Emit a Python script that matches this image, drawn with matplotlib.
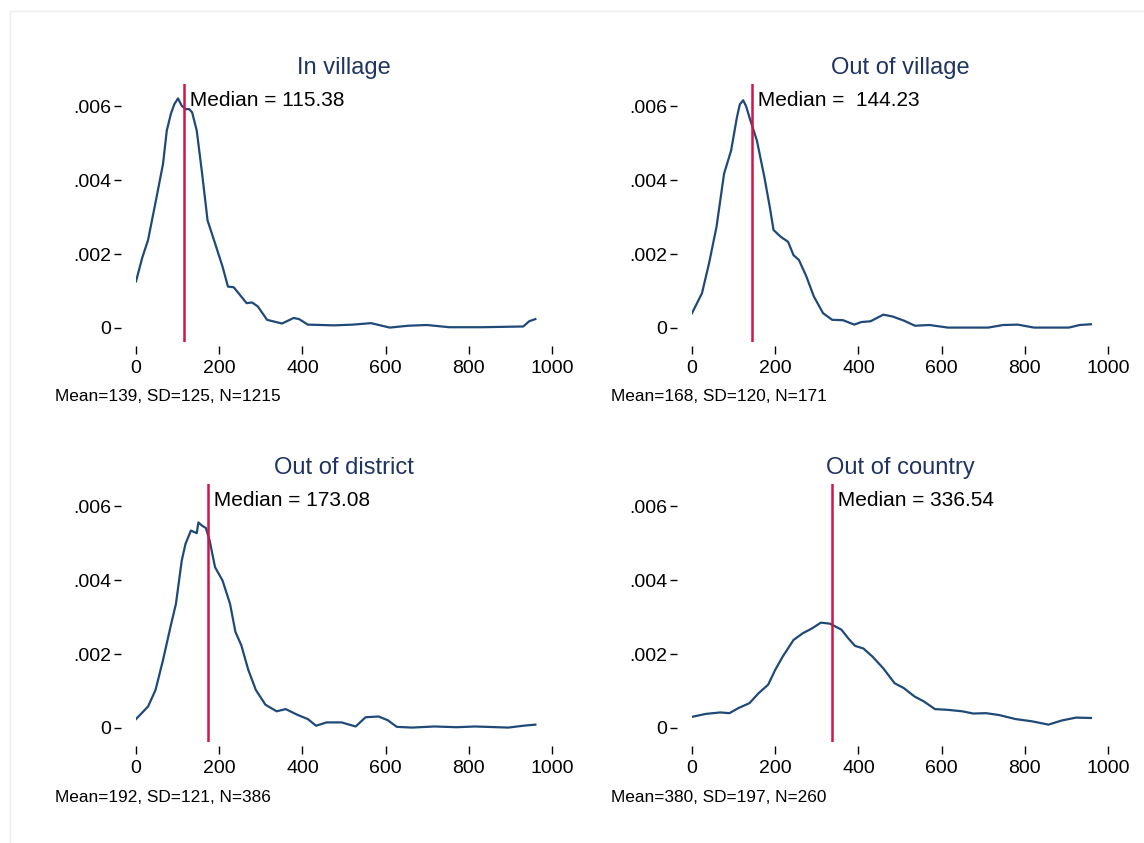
import numpy as np
import matplotlib.pyplot as plt
from matplotlib.lines import Line2D

plt.rcParams['font.family'] = ['Liberation Sans', 'DejaVu Sans']

titles = ['In village', 'Out of village', 'Out of district', 'Out of country']
medians = [115.38, 144.23, 173.08, 336.54]
median_labels = ['Median = 115.38', 'Median =  144.23', 'Median = 173.08', 'Median = 336.54']
notes = ['Mean=139, SD=125, N=1215', 'Mean=168, SD=120, N=171',
         'Mean=192, SD=121, N=386', 'Mean=380, SD=197, N=260']

# kernel density curves
x_vil = [0, 15, 29, 47, 65, 74, 84, 92, 101, 110, 119, 128, 135, 146, 159, 172, 190, 208, 221, 235, 253, 266,
         279, 293, 315, 351, 379, 392, 413, 476, 521, 565, 610, 654, 699, 753, 833, 931, 945, 960]
y_vil = [0.00126, 0.0019, 0.00238, 0.0034, 0.00444, 0.00534, 0.0058, 0.00605, 0.00621, 0.00601, 0.00592,
         0.00592, 0.00583, 0.00534, 0.00417, 0.00291, 0.00229, 0.00166, 0.00112, 0.0011, 0.00085,
         0.00067, 0.00069, 0.00058, 0.00022, 0.00012, 0.00027, 0.00024, 0.00009, 0.00007, 0.00009,
         0.00013, 0.00001, 0.00006, 0.00008, 0.00002, 0.00002, 0.00004, 0.00018, 0.00024]

x_outvil = [0, 24, 41, 59, 77, 94, 108, 115, 123, 130, 138, 156, 174, 187, 196, 213, 231, 244, 257, 275, 293,
            315, 337, 363, 390, 407, 429, 460, 482, 509, 536, 571, 615, 712, 748, 783, 822, 906, 932, 959]
y_outvil = [0.0004, 0.00094, 0.00175, 0.00274, 0.00417, 0.0048, 0.0057, 0.00605, 0.00616, 0.00600,
            0.0057, 0.00507, 0.00408, 0.00327, 0.00265, 0.00247, 0.00233, 0.00197, 0.00184, 0.00139,
            0.00085, 0.0004, 0.00022, 0.00021, 0.00009, 0.00016, 0.00018, 0.00036, 0.00031, 0.0002,
            0.00006, 0.00008, 0.00001, 0.00001, 0.00008, 0.00009, 0.00001, 0.00001, 0.00008, 0.0001]

x_dist = [0, 29, 47, 65, 83, 96, 110, 119, 132, 146, 150, 159, 168, 177, 190, 208, 226, 239, 253, 270,
          288, 311, 338, 360, 387, 413, 433, 458, 494, 528, 552, 583, 605, 627, 663, 717, 771, 815,
          895, 931, 960]
y_dist = [0.00024, 0.00058, 0.00103, 0.00184, 0.00274, 0.00336, 0.00453, 0.00498, 0.00534, 0.00527,
          0.00556, 0.00547, 0.00541, 0.00507, 0.00435, 0.00399, 0.00336, 0.0026, 0.00224, 0.00157,
          0.00103, 0.00063, 0.00045, 0.00051, 0.00036, 0.00024, 0.00006, 0.00015, 0.00015, 0.00004,
          0.00029, 0.00031, 0.00021, 0.00003, 0.00001, 0.00004, 0.00002, 0.00004, 0.00001, 0.00006,
          0.00009]

x_ctry = [0, 33, 68, 90, 112, 138, 160, 183, 200, 218, 244, 266, 288, 310, 332, 359, 376, 392, 412,
          434, 460, 487, 509, 535, 557, 584, 615, 650, 676, 707, 738, 778, 817, 857, 888, 923, 959]
y_ctry = [0.0003, 0.00038, 0.00042, 0.0004, 0.00054, 0.00067, 0.00094, 0.00117, 0.00157, 0.00193,
          0.00238, 0.00256, 0.00269, 0.00285, 0.00282, 0.00266, 0.00242, 0.00222, 0.00215, 0.00193,
          0.00161, 0.00121, 0.00108, 0.00085, 0.00072, 0.00051, 0.00049, 0.00045, 0.00039, 0.0004,
          0.00035, 0.00024, 0.00018, 0.00009, 0.0002, 0.00028, 0.00027]

curves = [(x_vil, y_vil), (x_outvil, y_outvil), (x_dist, y_dist), (x_ctry, y_ctry)]

xticks = [0, 200, 400, 600, 800, 1000]
yticks = [0, 0.002, 0.004, 0.006]
yticklabels = ['0', '.002', '.004', '.006']

W, H = 1144, 843
fig = plt.figure(figsize=(W / 100, H / 100), dpi=100)

navy = '#1f4a78'
red = '#d41444'
title_col = '#1f3463'

# plot regions in pixels: (left of x=0, top)
lefts = [136, 692, 136, 692]
tops = [84, 84, 484, 484]
ylim = (-0.00038, 0.0066)

for i in range(4):
    l, t = lefts[i], tops[i]
    r = l + 416
    b = t + 258
    ax = fig.add_axes([l / W, 1 - b / H, (r - l) / W, (b - t) / H])
    ax.plot(curves[i][0], curves[i][1], color=navy, lw=1.6, solid_joinstyle='round')
    ax.axvline(medians[i], color=red, lw=1.8)
    ax.set_xlim(0, 1000)
    ax.set_ylim(*ylim)
    ax.set_xticks(xticks)
    ax.set_xticklabels([str(v) for v in xticks])
    ax.set_yticks(yticks)
    ax.set_yticklabels(yticklabels)
    for s in ['top', 'right']:
        ax.spines[s].set_visible(False)
    ax.spines['left'].set_position(('outward', 11))
    ax.spines['bottom'].set_position(('outward', 3))
    ax.spines['left'].set_visible(False)
    ax.spines['bottom'].set_visible(False)
    ax.tick_params(axis='y', direction='out', length=5, width=1, pad=2, labelsize=14)
    ax.tick_params(axis='x', direction='out', length=6, width=1, pad=4, labelsize=14)
    ax.patch.set_alpha(0)
    ax.text(medians[i], 0.00616, ' ' + median_labels[i], fontsize=15, va='center', ha='left')
    ax.set_title(titles[i], color=title_col, fontsize=17, pad=7)
    fig.text((l - 81) / W, 1 - (b + 55) / H, notes[i], fontsize=12.4, va='center', ha='left')

# faint frame of the original screenshot
fig.add_artist(Line2D([10 / W, 1], [1 - 11 / H, 1 - 11 / H], color='#eeeeee', lw=1))
fig.add_artist(Line2D([10 / W, 10 / W], [0, 1 - 11 / H], color='#eeeeee', lw=1))

fig.savefig('out.png', dpi=100)
